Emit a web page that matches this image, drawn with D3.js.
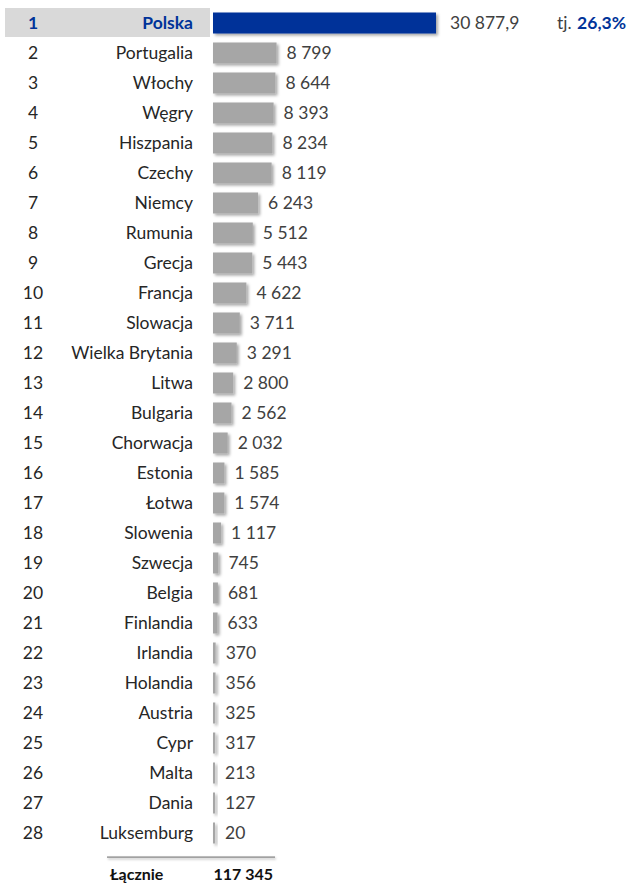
<!DOCTYPE html>
<html>
<head>
<meta charset="utf-8">
<script src="https://cdn.jsdelivr.net/npm/d3@7"></script>
<style>
  body { margin: 0; background: #fff; }
  svg { display: block; font-family: Lato, "Open Sans", sans-serif; }
</style>
</head>
<body>
<div id="chart"></div>
<script>
// countries in ranking order
const countries = ['Polska','Portugalia','Włochy','Węgry','Hiszpania','Czechy','Niemcy','Rumunia','Grecja','Francja',
  'Slowacja','Wielka Brytania','Litwa','Bulgaria','Chorwacja','Estonia','Łotwa','Slowenia','Szwecja','Belgia',
  'Finlandia','Irlandia','Holandia','Austria','Cypr','Malta','Dania','Luksemburg'];
const values = [30877.9,8799,8644,8393,8234,8119,6243,5512,5443,4622,3711,3291,2800,2562,2032,1585,1574,1117,745,681,
  633,370,356,325,317,213,127,20];
const valueLabels = ['30 877,9','8 799','8 644','8 393','8 234','8 119','6 243','5 512','5 443','4 622','3 711','3 291',
  '2 800','2 562','2 032','1 585','1 574','1 117','745','681','633','370','356','325','317','213','127','20'];
const shareLabel = '26,3%';
const totalLabel = '117 345';

const W = 630, H = 885;
const FS = 17.5;
const svg = d3.select('#chart').append('svg').attr('width', W).attr('height', H);

const defs = svg.append('defs');
const f = defs.append('filter').attr('id','shadow').attr('x','-50%').attr('y','-50%').attr('width','300%').attr('height','220%');
f.append('feDropShadow').attr('dx',2).attr('dy',2).attr('stdDeviation',1.6).attr('flood-color','#000').attr('flood-opacity',0.35);
const f2 = defs.append('filter').attr('id','shadowLine').attr('x','-5%').attr('y','-300%').attr('width','110%').attr('height','700%');
f2.append('feDropShadow').attr('dx',1).attr('dy',1.5).attr('stdDeviation',1.2).attr('flood-color','#000').attr('flood-opacity',0.35);

const y = d3.scaleBand().domain(d3.range(countries.length)).range([8, 848]).paddingInner(0.3).paddingOuter(0.15);
const x = d3.scaleLinear().domain([0, d3.max(values)]).range([213, 436]);

// highlight band for the first row
svg.append('rect').attr('x',5).attr('y',8).attr('width',205).attr('height',29)
  .attr('fill','#d9d9d9');

const rows = svg.append('g').selectAll('g').data(countries).join('g')
  .attr('transform', (d,i) => `translate(0,${y(i) + y.bandwidth()/2})`);

rows.append('text').attr('x',33).attr('dy','0.36em').attr('text-anchor','middle')
  .attr('font-size',FS).attr('font-weight',(d,i)=>i===0?'bold':'normal')
  .attr('fill',(d,i)=>i===0?'#003399':'#262626').text((d,i)=>i+1);

rows.append('text').attr('x',193).attr('dy','0.36em').attr('text-anchor','end')
  .attr('font-size',FS).attr('font-weight',(d,i)=>i===0?'bold':'normal')
  .attr('fill',(d,i)=>i===0?'#003399':'#262626').text(d=>d);

rows.append('rect').attr('x',x(0)).attr('y',-y.bandwidth()/2)
  .attr('width',(d,i)=>Math.max(2, x(values[i])-x(0))).attr('height',y.bandwidth())
  .attr('fill',(d,i)=>i===0?'#003399':'#a6a6a6').attr('filter','url(#shadow)');

rows.append('text').attr('x',(d,i)=>Math.max(x(values[i]), x(0)+2)+ (i===0?14:10)).attr('dy','0.36em')
  .attr('font-size',FS).attr('fill','#404040').text((d,i)=>valueLabels[i]);

// share for the leader
const first = svg.append('g').attr('transform',`translate(0,${y(0)+y.bandwidth()/2})`);
first.append('text').attr('x',557).attr('dy','0.36em').attr('font-size',FS).attr('fill','#404040').text('tj.');
first.append('text').attr('x',626).attr('dy','0.36em').attr('text-anchor','end').attr('font-size',FS)
  .attr('font-weight','bold').attr('fill','#003399').text(shareLabel);

// total
svg.append('rect').attr('x',107).attr('y',856.5).attr('width',168).attr('height',1.2)
  .attr('fill','#808080').attr('filter','url(#shadowLine)');
svg.append('text').attr('x',110).attr('y',880).attr('font-size',16).attr('font-weight','bold').attr('fill','#111').text('Łącznie');
svg.append('text').attr('x',273).attr('y',880).attr('text-anchor','end').attr('font-size',16).attr('font-weight','bold')
  .attr('fill','#111').text(totalLabel);
</script>
</body>
</html>
